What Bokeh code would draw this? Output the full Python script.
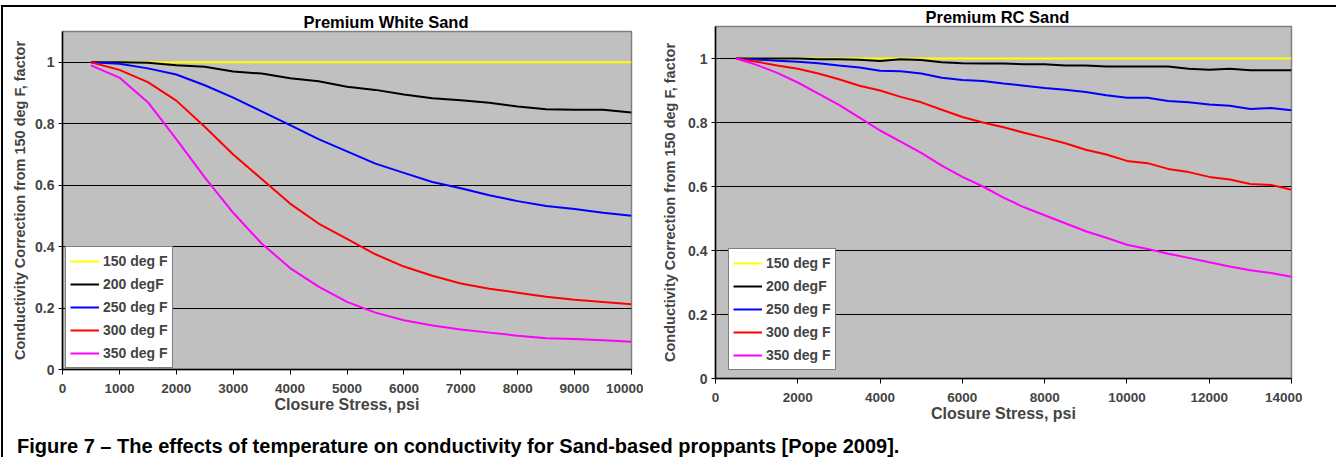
from bokeh.plotting import figure
from bokeh.models import (Range1d, FixedTicker, CustomJSTickFormatter, Legend,
                          LegendItem, Div, Spacer)
from bokeh.layouts import row, column
from bokeh.embed import file_html
from bokeh.resources import INLINE

FONT = "'Liberation Sans', Arial, sans-serif"

# ---------------- data: Premium White Sand ----------------
white_stress = [500, 1000, 1500, 2000, 2500, 3000, 3500, 4000, 4500, 5000,
                5500, 6000, 6500, 7000, 7500, 8000, 8500, 9000, 9500, 10000]
white_150 = [1.0, 1.0, 1.0, 1.0, 1.0, 1.0, 1.0, 1.0, 1.0, 1.0,
             1.0, 1.0, 1.0, 1.0, 1.0, 1.0, 1.0, 1.0, 1.0, 1.0]
white_200 = [1.0, 1.0, 0.998, 0.99, 0.985, 0.97, 0.963, 0.948, 0.938, 0.92,
             0.91, 0.895, 0.883, 0.876, 0.868, 0.856, 0.847, 0.845, 0.845, 0.836]
white_250 = [1.0, 0.995, 0.98, 0.96, 0.925, 0.885, 0.84, 0.795, 0.75, 0.71,
             0.67, 0.64, 0.61, 0.59, 0.567, 0.548, 0.532, 0.522, 0.51, 0.5]
white_300 = [1.0, 0.975, 0.935, 0.875, 0.79, 0.7, 0.62, 0.54, 0.475, 0.425,
             0.375, 0.335, 0.305, 0.28, 0.263, 0.25, 0.237, 0.227, 0.22, 0.212]
white_350 = [0.99, 0.95, 0.87, 0.75, 0.625, 0.51, 0.41, 0.33, 0.27, 0.22,
             0.185, 0.16, 0.143, 0.13, 0.12, 0.11, 0.102, 0.099, 0.095, 0.09]

# ---------------- data: Premium RC Sand ----------------
rc_stress = [500, 1000, 1500, 2000, 2500, 3000, 3500, 4000, 4500, 5000,
             5500, 6000, 6500, 7000, 7500, 8000, 8500, 9000, 9500, 10000,
             10500, 11000, 11500, 12000, 12500, 13000, 13500, 14000]
rc_150 = [1.0, 1.0, 1.0, 1.0, 1.0, 1.0, 1.0, 1.0, 1.0, 1.0,
          1.0, 1.0, 1.0, 1.0, 1.0, 1.0, 1.0, 1.0, 1.0, 1.0,
          1.0, 1.0, 1.0, 1.0, 1.0, 1.0, 1.0, 1.0]
rc_200 = [1.0, 1.0, 1.0, 1.0, 0.998, 0.998, 0.996, 0.992, 0.998, 0.995,
          0.988, 0.985, 0.984, 0.984, 0.982, 0.982, 0.978, 0.978, 0.975, 0.975,
          0.975, 0.975, 0.968, 0.965, 0.968, 0.963, 0.963, 0.963]
rc_250 = [1.0, 0.997, 0.993, 0.99, 0.985, 0.978, 0.972, 0.962, 0.96, 0.953,
          0.94, 0.933, 0.93, 0.922, 0.915, 0.908, 0.902, 0.895, 0.885, 0.877,
          0.877, 0.867, 0.863, 0.856, 0.852, 0.842, 0.845, 0.838]
rc_300 = [1.0, 0.99, 0.978, 0.968, 0.953, 0.935, 0.915, 0.9, 0.88, 0.863,
          0.84, 0.817, 0.8, 0.785, 0.768, 0.752, 0.735, 0.715, 0.7, 0.68,
          0.673, 0.655, 0.645, 0.63, 0.622, 0.608, 0.605, 0.59]
rc_350 = [1.0, 0.98, 0.955, 0.925, 0.89, 0.855, 0.815, 0.775, 0.74, 0.705,
          0.665, 0.63, 0.6, 0.565, 0.535, 0.51, 0.485, 0.46, 0.44, 0.418,
          0.405, 0.39, 0.377, 0.363, 0.35, 0.338, 0.33, 0.318]

series_labels = ["150 deg F", "200 degF", "250 deg F", "300 deg F", "350 deg F"]
series_colors = ["#FFFF00", "#000000", "#0000FF", "#FF0000", "#FF00FF"]
y_ticks = [0, 0.2, 0.4, 0.6, 0.8, 1.0]
white_x_ticks = [0, 1000, 2000, 3000, 4000, 5000, 6000, 7000, 8000, 9000, 10000]
rc_x_ticks = [0, 2000, 4000, 6000, 8000, 10000, 12000, 14000]

x_title = "Closure Stress, psi"
y_title = "Conductivity Correction from 150 deg F, factor"
caption_text = ("Figure 7 \u2013 The effects of temperature on conductivity "
                "for Sand-based proppants [Pope 2009].")


def make_chart(title, xs, ys_list, xmax, xticks, width, height, mb_left,
               mb_right, mb_top, mb_bottom, title_offset, title_standoff,
               ylabel_standoff, legend_loc):
    p = figure(width=width, height=height,
               x_range=Range1d(0, xmax), y_range=Range1d(0, 1.1),
               output_backend="svg", toolbar_location=None,
               min_border_left=mb_left, min_border_right=mb_right,
               min_border_top=mb_top, min_border_bottom=mb_bottom,
               background_fill_color="#C0C0C0", border_fill_color="white",
               border_fill_alpha=0.0,
               outline_line_color="#808080", outline_line_width=1.5)
    p.title.text = title
    p.title.align = "left"
    p.title.offset = title_offset
    p.title.standoff = title_standoff
    p.title.text_font = FONT
    p.title.text_font_size = "16.5px"
    p.title.text_font_style = "bold"
    p.title.text_color = "black"

    renderers = []
    for ys, col in zip(ys_list, series_colors):
        r = p.line(xs, ys, line_color=col, line_width=2)
        renderers.append(r)

    # x axis
    xa = p.xaxis[0]
    xa.ticker = FixedTicker(ticks=xticks)
    xa.axis_label = x_title
    xa.axis_label_text_font = FONT
    xa.axis_label_text_font_size = "16px"
    xa.axis_label_text_font_style = "bold"
    xa.axis_label_standoff = 0
    xa.major_label_text_font = FONT
    xa.major_label_text_font_size = "13.5px"
    xa.major_label_text_font_style = "bold"
    xa.major_label_standoff = 9
    xa.major_tick_out = 5
    xa.major_tick_in = 0
    xa.minor_tick_out = 0
    xa.minor_tick_in = 0
    xa.axis_line_color = "black"
    xa.axis_line_width = 1.5
    xa.major_tick_line_color = "black"

    # y axis
    ya = p.yaxis[0]
    ya.ticker = FixedTicker(ticks=y_ticks)
    ya.formatter = CustomJSTickFormatter(code="return String(Math.round(tick*10)/10);")
    ya.axis_label = y_title
    ya.axis_label_text_font = FONT
    ya.axis_label_text_font_size = "14.5px"
    ya.axis_label_text_font_style = "bold"
    ya.axis_label_standoff = ylabel_standoff
    ya.major_label_text_font = FONT
    ya.major_label_text_font_size = "14px"
    ya.major_label_text_font_style = "bold"
    ya.major_label_standoff = 4
    ya.major_tick_out = 4
    ya.major_tick_in = 0
    ya.minor_tick_out = 0
    ya.minor_tick_in = 0
    ya.axis_line_color = "black"
    ya.axis_line_width = 1.5
    ya.major_tick_line_color = "black"

    p.xgrid.visible = False
    p.ygrid.ticker = FixedTicker(ticks=y_ticks[1:])
    p.ygrid.grid_line_color = "black"
    p.ygrid.grid_line_width = 1

    legend = Legend(items=[LegendItem(label=lab, renderers=[r])
                           for lab, r in zip(series_labels, renderers)],
                    location=legend_loc, margin=0, padding=4, spacing=3,
                    glyph_width=29, glyph_height=20, label_height=20,
                    label_standoff=4, label_text_font=FONT,
                    label_text_font_size="14px", label_text_font_style="bold",
                    border_line_color="black", border_line_width=1,
                    background_fill_color="white", background_fill_alpha=1.0)
    p.add_layout(legend)
    return p


p1 = make_chart("Premium White Sand", white_stress,
                [white_150, white_200, white_250, white_300, white_350],
                10000, white_x_ticks, width=640, height=414, mb_left=59,
                mb_right=12, mb_top=24, mb_bottom=52, title_offset=241,
                title_standoff=2, ylabel_standoff=4, legend_loc=(3, 1))
p2 = make_chart("Premium RC Sand", rc_stress,
                [rc_150, rc_200, rc_250, rc_300, rc_350],
                14000, rc_x_ticks, width=659, height=428, mb_left=72,
                mb_right=11, mb_top=24, mb_bottom=52, title_offset=210,
                title_standoff=1, ylabel_standoff=7, legend_loc=(13, 8))
p2.margin = (-5, 0, 0, 0)

caption = Div(text=caption_text, margin=(5, 0, 0, 14),
              styles={"font-family": FONT, "font-size": "20px",
                      "font-weight": "bold", "line-height": "22px",
                      "color": "black", "white-space": "nowrap"})

layout = column(row(p1, p2, Spacer(width=34, height=10)), caption,
                margin=(5, 0, 0, 1),
                styles={"border-top": "2px solid black",
                        "border-left": "2px solid black"})

open("out.html", "w").write(file_html(layout, INLINE))
